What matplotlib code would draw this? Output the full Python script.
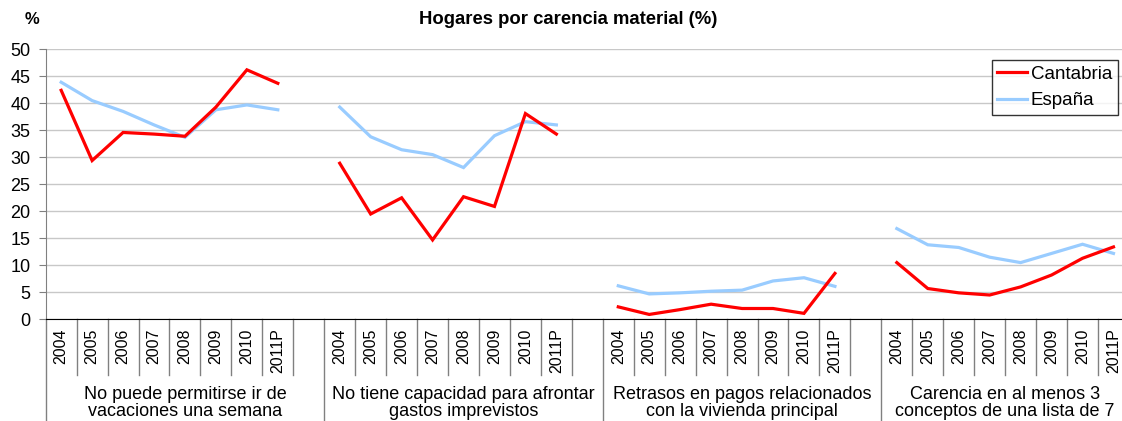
import numpy as np
import matplotlib.pyplot as plt
import matplotlib.transforms as mtransforms

plt.rcParams['font.family'] = ['Liberation Sans', 'DejaVu Sans']

# -----------------------------
# Data
# -----------------------------
years = ["2004", "2005", "2006", "2007", "2008", "2009", "2010", "2011P"]
groups = [
    "No puede permitirse ir de\nvacaciones una semana",
    "No tiene capacidad para afrontar\ngastos imprevistos",
    "Retrasos en pagos relacionados\ncon la vivienda principal",
    "Carencia en al menos 3\nconceptos de una lista de 7",
]

cantabria_vacaciones = [42.4, 29.4, 34.6, 34.3, 33.9, 39.3, 46.2, 43.7]
cantabria_imprevistos = [28.9, 19.5, 22.5, 14.7, 22.7, 20.9, 38.1, 34.3]
cantabria_retrasos = [2.3, 0.9, 1.8, 2.8, 2.0, 2.0, 1.1, 8.5]
cantabria_carencia = [10.5, 5.7, 4.9, 4.5, 6.0, 8.2, 11.3, 13.4]

espana_vacaciones = [43.9, 40.5, 38.5, 36.0, 33.7, 38.8, 39.7, 38.8]
espana_imprevistos = [39.3, 33.8, 31.4, 30.5, 28.1, 34.0, 36.6, 36.0]
espana_retrasos = [6.2, 4.7, 4.9, 5.2, 5.4, 7.1, 7.7, 6.1]
espana_carencia = [16.8, 13.8, 13.3, 11.5, 10.5, 12.2, 13.9, 12.2]

cantabria = [cantabria_vacaciones, cantabria_imprevistos, cantabria_retrasos, cantabria_carencia]
espana = [espana_vacaciones, espana_imprevistos, espana_retrasos, espana_carencia]

red = "#FF0000"
blue = "#99CCFF"

# -----------------------------
# Figure
# -----------------------------
W, H = 1122, 421
fig = plt.figure(figsize=(W / 100, H / 100), dpi=100)
cell = 30.95
ncells = 35
x0, ytop, ybot = 45.7, 49.3, 319.3
pw, ph = ncells * cell, ybot - ytop
ax = fig.add_axes([x0 / W, 1 - ybot / H, pw / W, ph / H])

step = len(years) + 1
for g in range(len(groups)):
    xs = np.arange(len(years)) + g * step + 0.5
    ax.plot(xs, espana[g], color=blue, lw=2.3, solid_joinstyle="miter",
            label="España" if g == 0 else None)
    ax.plot(xs, cantabria[g], color=red, lw=2.3, solid_joinstyle="miter",
            label="Cantabria" if g == 0 else None)

ax.set_xlim(0, ncells)
ax.set_ylim(0, 50)
ax.set_yticks(np.arange(0, 51, 5))
ax.yaxis.grid(True, color="#C8C8C8", lw=1)
ax.set_axisbelow(True)
ax.set_xticks([])
ax.tick_params(axis="y", labelsize=13, length=5, color="#808080", pad=6)
for s in ["top", "right"]:
    ax.spines[s].set_visible(False)
ax.spines["left"].set_color("#808080")
ax.spines["bottom"].set_color("black")

# category labels and separators below the axis
trans = mtransforms.blended_transform_factory(ax.transData, ax.transAxes)
for g in range(len(groups)):
    ncell_g = step if g < len(groups) - 1 else len(years)
    for i, yr in enumerate(years):
        xc = g * step + i + 0.5
        ax.text(xc, -9 / ph, yr, transform=trans, rotation=90, ha="center", va="top",
                fontsize=11.5)
    for i in range(1, ncell_g):
        ax.plot([g * step + i] * 2, [0, -(375 - ybot) / ph], transform=trans,
                color="#808080", lw=1, clip_on=False)
    ax.plot([g * step] * 2, [0, -(H - ybot) / ph], transform=trans,
            color="#808080", lw=1, clip_on=False)
    ax.text(g * step + ncell_g / 2, -(386 - ybot) / ph, groups[g], transform=trans,
            ha="center", va="top", fontsize=13, linespacing=1.0)

# legend
handles, labels = ax.get_legend_handles_labels()
leg = ax.legend(handles[::-1], labels[::-1], loc="upper right",
                bbox_to_anchor=((1118 - x0) / pw, 1 - (60 - ytop) / ph),
                frameon=True, fancybox=False, edgecolor="black", fontsize=13.5,
                handlelength=1.6, handletextpad=0.2, borderpad=0.3,
                labelspacing=0.5, borderaxespad=0)
leg.get_frame().set_linewidth(1)

fig.text(568 / W, 1 - 20 / H, "Hogares por carencia material (%)", ha="center",
         va="center", fontsize=13.3, fontweight="bold")
fig.text(32 / W, 1 - 20 / H, "%", ha="center", va="center", fontsize=12, fontweight="bold")

fig.savefig("out.png", dpi=100)
